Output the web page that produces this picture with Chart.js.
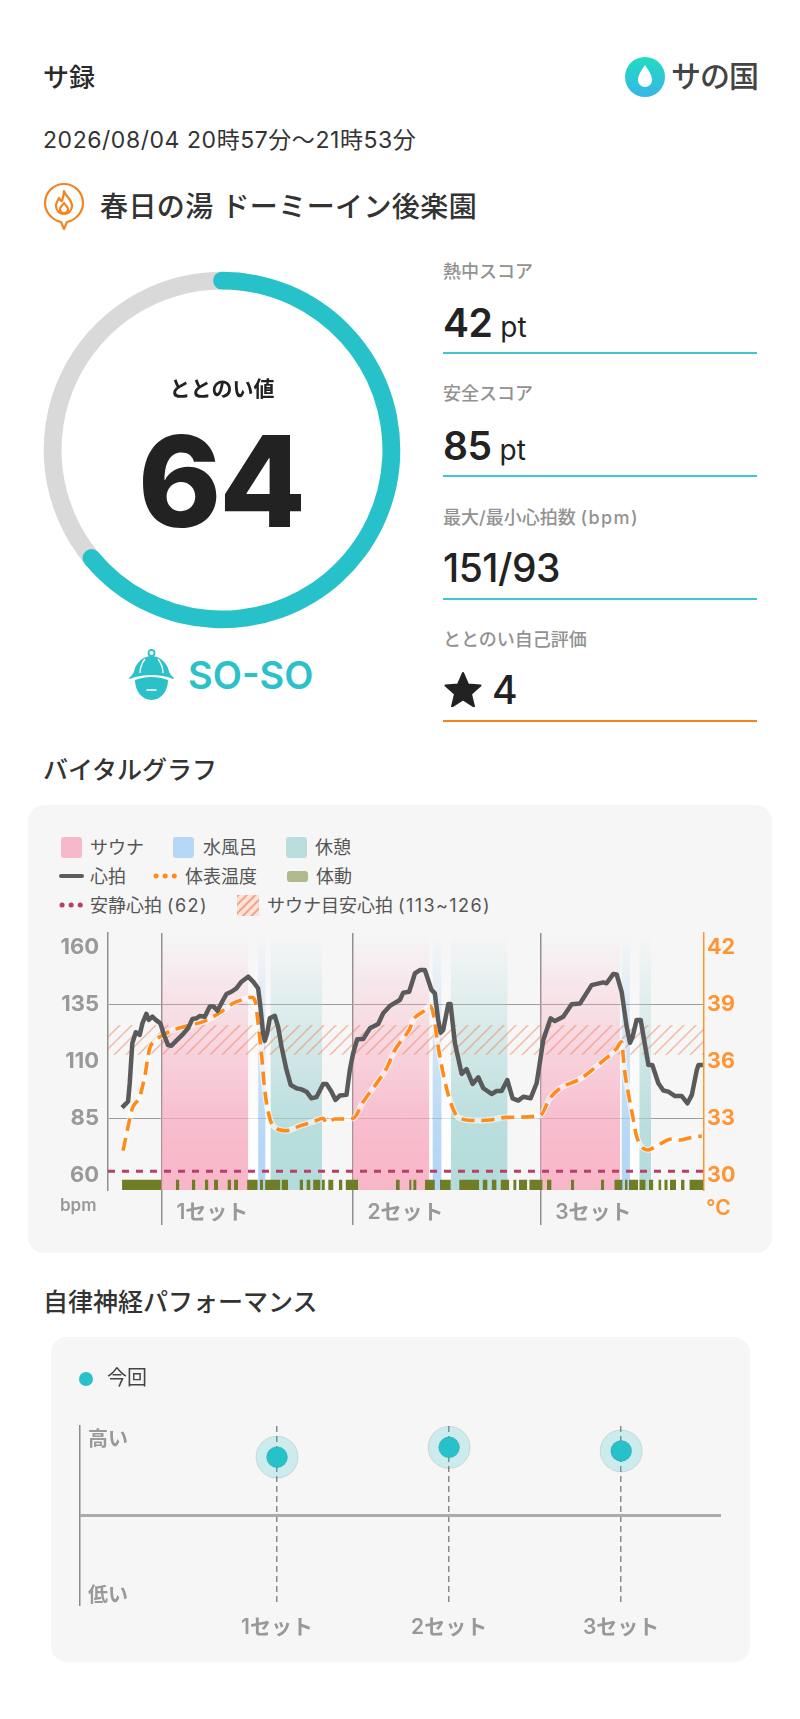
<!DOCTYPE html>
<html lang="ja">
<head>
<meta charset="utf-8">
<title>サ録</title>
<script src="https://cdn.jsdelivr.net/npm/chart.js@4/dist/chart.umd.min.js"></script>
<style>
  html, body { margin: 0; background: #fff; }
  body { position: relative; width: 800px; height: 1719px; overflow: hidden; font-family: Inter, "Noto Sans CJK JP", sans-serif; color: #2a2a2a; }
  .t { position: absolute; white-space: nowrap; line-height: 1; transform: translateY(-50%); }
  .card { position: absolute; background: #f6f6f6; border-radius: 16px; }
  .rule { position: absolute; left: 443px; width: 314px; height: 2px; background: #3fc6cf; }
  .lab { left: 443px; font-size: 18px; font-weight: 500; color: #929292; }
  .val { left: 443px; font-size: 39px; font-weight: 600; color: #222; letter-spacing: -.5px; }
  .val small { font-size: 28px; font-weight: 400; margin-left: 8px; letter-spacing: 0; }
  .leg { font-size: 18px; color: #555; }
  .leg span, .lab span { letter-spacing: 1.4px; }
  .sw { position: absolute; border-radius: 3px; }
  canvas { position: absolute; }
  svg { position: absolute; }
</style>
</head>
<body>
<div class="t" style="left:43px;top:78px;font-size:26px;font-weight:500">サ録</div>
<svg style="left:624px;top:56px" width="42" height="42" viewBox="0 0 42 42">
  <defs><linearGradient id="drop" x1="0" y1="0" x2="0" y2="1"><stop offset="0" stop-color="#20dcc0"/><stop offset="1" stop-color="#38b6e8"/></linearGradient></defs>
  <circle cx="21" cy="21" r="20" fill="url(#drop)"/>
  <path d="M21 9c4 6 7 10 7 15a7 7 0 0 1-14 0c0-5 3-9 7-15z" fill="#fff"/>
</svg>
<div class="t" style="left:671px;top:76px;font-size:30px;font-weight:500;color:#444;letter-spacing:-1px">サの国</div>
<div class="t" style="left:43px;top:140px;font-size:23px;font-weight:400;color:#333;letter-spacing:.55px">2026/08/04 20時57分～21時53分</div>
<svg style="left:42px;top:181px" width="44" height="50" viewBox="0 0 44 50" fill="none" stroke="#f5821f" stroke-width="2.2">
  <path d="M22 48l-3-7C10 39 3 31 3 22a19 19 0 0 1 38 0c0 9-7 17-16 19z" stroke-linejoin="round"/>
  <path d="M22 10c1 5 8 8 8 15a8 8 0 0 1-16 0c0-4 2-5 3-8 1 2 2 3 3 3 1-3 2-6 2-10z M22 32c-3 0-4-2-4-4s2-3 4-6c2 3 4 4 4 6s-1 4-4 4z" stroke-linejoin="round"/>
</svg>
<div class="t" style="left:100px;top:207px;font-size:28px;font-weight:500;color:#333;letter-spacing:.4px">春日の湯 ドーミーイン後楽園</div>

<canvas id="gauge" style="left:32px;top:260px" width="380" height="380"></canvas>
<div class="t" style="left:222px;top:388px;font-size:21px;font-weight:600;color:#222;transform:translate(-50%,-50%)">ととのい値</div>
<div class="t" style="left:221px;top:481px;font-size:126px;font-weight:800;color:#222;transform:translate(-50%,-50%);letter-spacing:-2px">64</div>
<svg style="left:128px;top:649px" width="48" height="52" viewBox="0 0 48 52" fill="#2bc1c9">
  <circle cx="23.500" cy="4" r="3" fill="none" stroke="#2bc1c9" stroke-width="1.800"/>
  <path d="M23.500 7C31 7 37 12 40 19c1 4 2 7 6 10l-1 1c-7-3-14-4-21.500-4S9 27 2 30l-1-1c4-3 5-6 6-10C10 12 16 7 23.500 7z"/>
  <path d="M7 31c5-2 11-3 16.500-3s11.500 1 16.500 3c0 11-7 20-16.500 20S7 42 7 31z"/>
  <path d="M17 10c-3 4-5 9-5 14M30 10c3 4 5 9 5 14" fill="none" stroke="#fff" stroke-width="1.300"/>
  <path d="M19 41h9" stroke="#fff" stroke-width="1.600" stroke-linecap="round"/>
</svg>
<div class="t" style="left:188px;top:675px;font-size:38px;font-weight:600;color:#2bc1c9">SO-SO</div>

<div class="t lab" style="top:272px">熱中スコア</div>
<div class="t val" style="top:322px">42<small>pt</small></div>
<div class="rule" style="top:352px"></div>
<div class="t lab" style="top:394px">安全スコア</div>
<div class="t val" style="top:445px">85<small>pt</small></div>
<div class="rule" style="top:475px"></div>
<div class="t lab" style="top:518px">最大/最小心拍数 <span>(bpm)</span></div>
<div class="t val" style="top:567px;font-weight:500">151/93</div>
<div class="rule" style="top:598px"></div>
<div class="t lab" style="top:640px">ととのい自己評価</div>
<svg style="left:444px;top:671px" width="38" height="36" viewBox="0 0 38 36"><path d="M19 2l5 11.500 12.500 1-9.500 8.500 3 12.500L19 28.500 8 35.500l3-12.500-9.500-8.500 12.500-1z" fill="#222" stroke="#222" stroke-width="2" stroke-linejoin="round"/></svg>
<div class="t val" style="left:492px;top:689px;font-weight:500">4</div>
<div class="rule" style="top:720px;background:#f5821f"></div>

<div class="t" style="left:43px;top:770px;font-size:25px;font-weight:500;color:#333">バイタルグラフ</div>
<div class="card" style="left:28px;top:805px;width:744px;height:448px"></div>
<div class="sw" style="left:61px;top:837px;width:21px;height:21px;background:#f8b8cb"></div>
<div class="t leg" style="left:90px;top:848px">サウナ</div>
<div class="sw" style="left:173px;top:837px;width:21px;height:21px;background:#b5d8f7"></div>
<div class="t leg" style="left:203px;top:848px">水風呂</div>
<div class="sw" style="left:286px;top:837px;width:21px;height:21px;background:#b9dedd"></div>
<div class="t leg" style="left:315px;top:848px">休憩</div>
<div class="sw" style="left:59px;top:874px;width:25px;height:4px;background:#5d5d5d"></div>
<div class="t leg" style="left:90px;top:877px">心拍</div>
<svg style="left:153px;top:873px" width="25" height="6"><line x1="3" y1="3" x2="24" y2="3" stroke="#ff8c1a" stroke-width="5" stroke-linecap="round" stroke-dasharray="0.1 9"/></svg>
<div class="t leg" style="left:185px;top:877px">体表温度</div>
<div class="sw" style="left:287px;top:871px;width:21px;height:11px;background:#afb98b"></div>
<div class="t leg" style="left:316px;top:877px">体動</div>
<svg style="left:59px;top:902px" width="25" height="6"><line x1="3" y1="3" x2="24" y2="3" stroke="#b83e66" stroke-width="5" stroke-linecap="round" stroke-dasharray="0.1 9"/></svg>
<div class="t leg" style="left:90px;top:906px">安静心拍 <span>(62)</span></div>
<svg style="left:237px;top:895px" width="22" height="21">
  <defs><pattern id="hatchSw" width="6" height="6" patternUnits="userSpaceOnUse" patternTransform="rotate(45)"><rect width="6" height="6" fill="#fbe3d9"/><rect width="2" height="6" fill="#f0a488"/></pattern></defs>
  <rect width="22" height="21" fill="url(#hatchSw)"/>
</svg>
<div class="t leg" style="left:267px;top:906px">サウナ目安心拍 <span>(113~126)</span></div>
<canvas id="vital" style="left:40px;top:925px" width="720" height="310"></canvas>
<div class="t" style="left:60px;top:1205px;font-size:17px;font-weight:600;color:#999">bpm</div>
<div class="t" style="left:706px;top:1207px;font-size:21px;font-weight:600;color:#ff9433">°C</div>

<div class="t" style="left:43px;top:1302px;font-size:25px;font-weight:500;color:#333">自律神経パフォーマンス</div>
<div class="card" style="left:51px;top:1337px;width:699px;height:325px"></div>
<div class="sw" style="left:79px;top:1372px;width:14px;height:14px;border-radius:50%;background:#27c2c9"></div>
<div class="t" style="left:107px;top:1378px;font-size:20px;color:#444">今回</div>
<canvas id="auto" style="left:60px;top:1415px" width="680" height="235"></canvas>

<script>
// vital graph, x axis is minutes since the measurement started
const heartMinutes = [0,.26,.58,.74,.99,1.32,1.7,1.96,2.34,2.57,2.92,3.24,3.69,4.04,4.43,4.75,5.23,5.87,6.35,6.77,7.15,7.47,7.96,8.44,8.82,9.18,9.72,10.04,10.52,11,11.49,12.13,12.61,13.09,13.31,13.57,13.73,13.96,14.21,14.69,15.01,15.34,15.82,16.23,16.78,17.26,17.74,18.22,18.7,19.35,19.67,20.15,20.53,20.95,21.59,21.91,22.23,22.62,23.2,23.84,24.64,25.12,25.76,26.72,27.05,27.62,28.17,28.65,29.13,29.77,30.09,30.41,30.64,30.89,31.38,31.6,32.02,32.67,33.14,33.72,34.27,34.75,35.55,36.03,36.51,37.06,37.57,38.11,38.6,39.3,39.88,40.13,40.52,41.23,41.64,42.44,43.25,44.05,45.17,46.29,46.61,47.26,47.58,48.06,48.54,48.86,49.12,49.5,49.89,50.63,51.01,51.59,52.07,52.55,53.2,53.84,54.39,54.81,55.29,55.45,55.87]
const heartBpm = [89.8,91,92.5,100.5,118,122.8,121.6,126.7,130.8,128.2,129.6,128.2,126.7,121.6,117.2,116.9,119.1,122,124.5,128.6,128.9,129.9,129.6,134,134,132.2,136.9,139.5,140.5,142,144.9,147.1,144.9,142,134,122.3,119,122.3,128.9,130,125.2,116.5,106.3,99.7,98.3,97.8,96.8,93.9,94.4,100.2,100.2,96.8,93.2,95.1,95.4,106.3,113.6,119.7,119.8,124.5,126.4,131.1,134.3,136.9,140.1,140.5,148.5,150,150,141.3,139.8,128.2,122.6,123.8,135.1,135.1,118,104.6,106.7,100.2,103.1,98.3,95.8,97.1,97.1,101.9,93.9,92.9,94.6,93.9,100.5,107.8,119.4,128.9,127.7,129.6,135,135.4,143.4,144.6,144.2,148.3,148.1,140.5,125.2,118.2,120.9,128.2,128.2,108.5,108.5,100.5,97.3,96.8,94.9,94.9,91.7,95.4,106.3,108.5,108.5]
const tempMinutes = [.1,.58,.99,1.7,2.18,2.66,3.05,3.95,4.91,6.19,7.8,9.4,10.68,11.65,12.45,12.77,13.09,13.41,13.73,14.21,14.85,15.82,17.1,18.39,19.35,19.67,20.47,22.23,23.2,24.48,25.44,26.24,27.69,28,28.97,29.68,29.93,30.41,30.89,31.53,32.34,33.95,35.38,36.99,40.2,41.16,42.13,44.05,45.98,47.58,48.06,48.29,48.7,49.19,49.5,50.63,51.43,52.87,53.67,54.81,55.77]
const tempC = [31.32,32.58,33.54,34.15,35.2,36.69,37.04,37.39,37.65,37.86,38.09,38.56,39.05,39.26,39.37,39.23,38,36.43,34.5,33.02,32.49,32.37,32.62,32.84,33.02,32.79,32.98,33.02,33.89,34.85,35.64,36.6,37.74,38.18,38.62,38.91,38.53,36.78,35.38,33.98,33.07,32.9,32.93,33.07,33.16,34.07,34.59,35.08,35.9,36.69,37.04,35.73,34.33,32.93,32.06,31.36,31.57,31.93,31.88,32.02,32.09]

const saunaSpans = [[3.79,12.13],[22.17,29.55],[40.23,47.9]]
const waterSpans = [[13.09,13.8],[29.87,30.73],[48.06,48.86]]
const restSpans = [[14.28,19.25],[31.63,37.09],[49.76,50.88]]
const gapSpans = [[12.13,13.09],[13.8,14.28],[29.55,29.87],[30.73,31.63],[47.9,48.06],[48.86,49.76]]
const moveSpans = [[0,3.79],[5.17,5.52],[6.71,7.06],[7.96,8.31],[8.85,9.24],[10.14,10.49],[10.78,11.16],[12.03,13.06],[13.25,13.57],[13.76,15.24],[15.34,15.98],[17.07,17.42],[17.74,18.13],[18.38,19.09],[19.22,19.51],[19.83,20.34],[20.85,21.21],[21.5,22.71],[26.34,26.72],[27.62,27.85],[28.01,28.33],[29.13,30.09],[30.57,31.63],[32.43,34.36],[34.68,35.16],[35.55,36.03],[36.41,37.25],[37.63,37.95],[38.18,38.98],[39.17,40.46],[40.87,41.32],[43.18,43.5],[46.07,46.39],[47.35,48.15],[48.38,48.64],[48.76,49.66],[49.76,50.37],[50.69,51.11],[51.59,51.88],[52.16,52.49],[52.71,53.29],[53.77,54.12],[54.57,55.92]]

const setStarts = [3.79,22.17,40.23]
const setLabels = ['1セット','2セット','3セット']
const bpmTicks = [60,85,110,135,160]
const bpmGrid = [85,135]
const tempTicks = [30,33,36,39,42]
const restingBpm = 62
const targetBpm = [113,126]

const gaugeValue = 64
const autoSets = [1,2,3]
const autoScores = [65,76,72]
const autoLabels = ['1セット','2セット','3セット']

const FONT = 'Inter, "Noto Sans CJK JP", sans-serif'
const TEAL = '#27c2c9'
const X_MIN = -1.35, X_MAX = 55.98

const pairs = (xs, ys) => xs.map((x, i) => ({ x, y: ys[i] }))
const spanPoints = (spans, y) => spans.flatMap(([a, b]) => [{ x: a, y }, { x: b, y }, { x: b, y: null }])

// fixed axis size, and no extra room for tick labels at the plot edges
const fixSize = (key, size) => s => {
  s[key] = size
  s.paddingTop = s.paddingBottom = s.paddingLeft = s.paddingRight = 0
}

// fades from nothing at the top of the plot to the full colour at the bottom
function fade (color) {
  return ctx => {
    const a = ctx.chart.chartArea
    if (!a) return 'transparent'
    const g = ctx.chart.ctx.createLinearGradient(0, a.top, 0, a.bottom)
    g.addColorStop(0, color + '00')
    g.addColorStop(0.75, color + 'c0')
    g.addColorStop(1, color + 'd8')
    return g
  }
}

function hatch () {
  const c = document.createElement('canvas')
  c.width = c.height = 12
  const x = c.getContext('2d')
  x.strokeStyle = 'rgba(238,125,90,0.5)'
  x.lineWidth = 1.5
  x.beginPath()
  x.moveTo(-3, 15); x.lineTo(15, -3)
  x.moveTo(-3, 3); x.lineTo(3, -3)
  x.moveTo(9, 15); x.lineTo(15, 9)
  x.stroke()
  return x.createPattern(c, 'repeat')
}

const band = (spans, color, order) => ({
  data: spanPoints(spans, 170), order, fill: 'start', backgroundColor: fade(color),
  borderWidth: 0, pointRadius: 0, clip: true
})

new Chart(document.getElementById('vital'), {
  type: 'line',
  data: {
    datasets: [
      band(gapSpans, '#ffffff', 60),
      band(saunaSpans, '#f8aac0', 50),
      band(waterSpans, '#a4cff6', 50),
      band(restSpans, '#a6d6d5', 50),
      { data: [{ x: X_MIN, y: targetBpm[1] }, { x: X_MAX, y: targetBpm[1] }], order: 40,
        fill: { target: { value: targetBpm[0] } }, backgroundColor: hatch(), borderWidth: 0, pointRadius: 0 },
      { data: [{ x: X_MIN, y: restingBpm }, { x: X_MAX, y: restingBpm }], order: 30,
        borderColor: '#b83e66', borderWidth: 3, borderDash: [7, 7], pointRadius: 0 },
      { data: spanPoints(moveSpans, 58.3), order: 20, fill: 'start', backgroundColor: '#6f7d27', borderWidth: 0, pointRadius: 0 },
      { data: pairs(tempMinutes, tempC), yAxisID: 'y2', order: 12, borderColor: 'rgba(255,255,255,0.6)', borderWidth: 6,
        pointRadius: 0, cubicInterpolationMode: 'monotone' },
      { data: pairs(tempMinutes, tempC), yAxisID: 'y2', order: 10, borderColor: '#ff8c1a', borderWidth: 3.6, borderDash: [13, 7],
        pointRadius: 0, cubicInterpolationMode: 'monotone' },
      { data: pairs(heartMinutes, heartBpm), order: 5, borderColor: '#5a5a5a', borderWidth: 4.5, borderJoinStyle: 'round', pointRadius: 0 }
    ]
  },
  options: {
    responsive: false, animation: false, parsing: { xAxisKey: 'x', yAxisKey: 'y' },
    layout: { autoPadding: false, padding: { top: 8, left: 0, right: 0, bottom: 0 } },
    plugins: { legend: { display: false }, tooltip: { enabled: false } },
    scales: {
      x: {
        type: 'linear', min: X_MIN, max: X_MAX,
        afterBuildTicks: s => { s.ticks = setStarts.map(value => ({ value })) },
        afterFit: fixSize('height', 45),
        grid: { color: '#8f8f8f', lineWidth: 1.5, tickLength: 35, tickColor: '#8f8f8f' },
        border: { display: false },
        ticks: {
          autoSkip: false, maxRotation: 0, align: 'start', labelOffset: 15, padding: -25,
          color: '#999', font: { size: 21, weight: '600', family: FONT },
          callback: (v, i) => setLabels[i]
        }
      },
      y: {
        min: 53.8, max: 166.2,
        afterBuildTicks: s => { s.ticks = bpmTicks.map(value => ({ value })) },
        afterFit: fixSize('width', 68),
        grid: { drawTicks: false, color: c => bpmGrid.includes(c.tick.value) ? '#9c9c9c' : 'transparent', lineWidth: 1 },
        border: { color: '#8f8f8f', width: 1.5 },
        ticks: { padding: 9, color: '#999', font: { size: 22, weight: '700', family: FONT } }
      },
      y2: {
        position: 'right', min: 29.256, max: 42.744,
        afterBuildTicks: s => { s.ticks = tempTicks.map(value => ({ value })) },
        afterFit: fixSize('width', 56),
        grid: { display: false, drawTicks: false },
        border: { color: '#ff9433', width: 1.5 },
        ticks: { padding: 3, color: '#ff9433', font: { size: 21.5, weight: '700', family: FONT } }
      }
    }
  }
})

// round ends for the score arc, placed from the arc element's own angles
const gaugeCaps = {
  id: 'gaugeCaps',
  afterDatasetsDraw (chart) {
    const arc = chart.getDatasetMeta(0).data[0]
    const r = (arc.innerRadius + arc.outerRadius) / 2
    const w = (arc.outerRadius - arc.innerRadius) / 2
    const { ctx } = chart
    ctx.save()
    ctx.fillStyle = TEAL
    for (const a of [arc.startAngle, arc.endAngle]) {
      ctx.beginPath()
      ctx.arc(arc.x + r * Math.cos(a), arc.y + r * Math.sin(a), w, 0, Math.PI * 2)
      ctx.fill()
    }
    ctx.restore()
  }
}

new Chart(document.getElementById('gauge'), {
  type: 'doughnut',
  data: { datasets: [{ data: [gaugeValue, 100 - gaugeValue], backgroundColor: [TEAL, '#d9d9d9'], borderWidth: 0 }] },
  options: {
    responsive: false, animation: false, cutout: '90%',
    layout: { padding: 11.7 },
    plugins: { legend: { display: false }, tooltip: { enabled: false } }
  },
  plugins: [gaugeCaps]
})

new Chart(document.getElementById('auto'), {
  type: 'scatter',
  data: {
    datasets: [
      { data: pairs(autoSets, autoScores), pointRadius: 10.5, backgroundColor: TEAL, order: 1 },
      { data: pairs(autoSets, autoScores), pointRadius: 21, backgroundColor: 'rgba(39,194,201,0.2)', order: 2 }
    ]
  },
  options: {
    responsive: false, animation: false,
    layout: { autoPadding: false, padding: { top: 11, left: 0, right: 19, bottom: 0 } },
    plugins: { legend: { display: false }, tooltip: { enabled: false } },
    scales: {
      x: {
        type: 'linear', min: -0.145, max: 3.58,
        afterBuildTicks: s => { s.ticks = autoSets.map(value => ({ value })) },
        afterFit: fixSize('height', 46),
        grid: { drawTicks: false, color: '#8a8a8a', lineWidth: 1.5 },
        border: { display: false, dash: [6, 4] },
        ticks: { autoSkip: false, maxRotation: 0, padding: 11, color: '#999', font: { size: 21, weight: '600', family: FONT },
          callback: (v, i) => autoLabels[i] }
      },
      y: {
        min: -100, max: 100,
        afterBuildTicks: s => { s.ticks = [-91, 0, 84].map(value => ({ value })) },
        afterFit: fixSize('width', 20),
        grid: { drawTicks: false, color: c => c.tick.value === 0 ? '#ababab' : 'transparent', lineWidth: 3 },
        border: { color: '#8a8a8a', width: 1.5 },
        ticks: { mirror: true, padding: 8, color: '#999', font: { size: 20, weight: '600', family: FONT },
          callback: v => v > 0 ? '高い' : v < 0 ? '低い' : '' }
      }
    }
  }
})
</script>
</body>
</html>
